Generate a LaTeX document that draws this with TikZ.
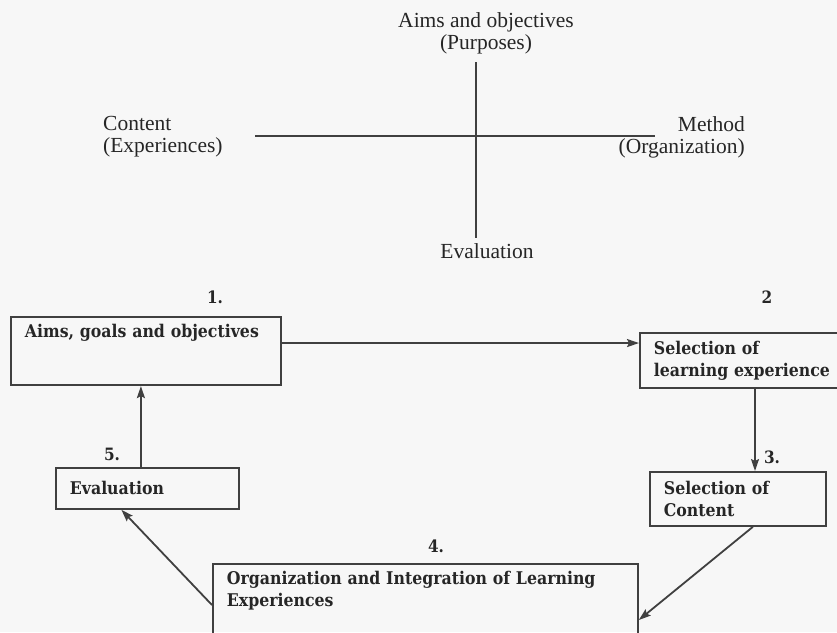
\documentclass[tikz,border=0pt]{standalone}
\usepackage{fontspec}
\setmainfont{Liberation Serif}
\newfontfamily\boxfont{DejaVu Serif Condensed}
\usetikzlibrary{arrows.meta,positioning}

\begin{document}
\begin{tikzpicture}[
    x=1pt, y=-1pt,
    every node/.style={text=black!85},
    lbl/.style={inner sep=0pt, font=\fontsize{21.5}{22}\selectfont},
    axis/.style={draw=black!75, line width=1.8pt},
    box/.style={draw=black!75, line width=1.8pt, anchor=north west, align=left, inner xsep=14pt, inner ysep=7pt, font=\boxfont\bfseries\fontsize{17.5}{22}\selectfont},
    num/.style={inner sep=0pt, font=\boxfont\bfseries\fontsize{17}{19}\selectfont},
    flow/.style={-{Stealth[length=12pt,width=8pt,inset=2pt]}, draw=black!75, line width=1.8pt}
]
\useasboundingbox (0,0) rectangle (837,632);
\clip (0,0) rectangle (837,632);
\fill[black!3] (0,0) rectangle (837,632);

% the cross of the four elements
\node[lbl, align=center] (purpose) at (486,33) {Aims and objectives\\(Purposes)};
\node[lbl, align=left, anchor=west] (experience) at (103,137) {Content\\(Experiences)};
\node[lbl, align=right, anchor=east] (method) at (745,137) {Method\\(Organization)};
\node[lbl] (evallbl) at (487,251) {Evaluation};
\coordinate (axn) at (476,62);
\coordinate (axs) at (476,238);
\coordinate (axw) at (255,136);
\coordinate (axe) at (655,136);
\draw[axis] (axn) -- (axs);
\draw[axis] (axw) -- (axe);

% the cycle of steps
\node[box, text width=242pt, text depth=41pt] (aims) at (10,316) {Aims, goals and objectives};
\node[box, text width=190pt, minimum height=55pt] (learnexp) at (639,332) {Selection of\\learning experience};
\node[box, text width=148pt, minimum height=54pt] (content) at (649,471) {Selection of\\Content};
\node[box, text width=397pt, text depth=60pt] (organize) at (212,563) {Organization and Integration of Learning\\Experiences};
\node[box, text width=155pt, minimum height=41pt] (evaluate) at (55,467) {Evaluation};

\node[num] (one) at (215,297) {1.};
\node[num] (two) at (767,297) {2};
\node[num] (three) at (772,457) {3.};
\node[num] (four) at (436,546) {4.};
\node[num] (five) at (112,454) {5.};

\draw[flow] ([yshift=8pt]aims.east) -- ([yshift=8pt]aims.east -| learnexp.west);
\draw[flow] ([xshift=116pt]learnexp.south west) -- ([xshift=116pt]learnexp.south west |- content.north);
\draw[flow] ([xshift=15pt]content.south) -- ([yshift=-57pt]organize.north east);
\draw[flow] ([yshift=-42pt]organize.north west) -- ([xshift=-26pt]evaluate.south);
\draw[flow] ([xshift=-6.5pt]evaluate.north) -- ([xshift=-6.5pt]evaluate.north |- aims.south);
\end{tikzpicture}
\end{document}
